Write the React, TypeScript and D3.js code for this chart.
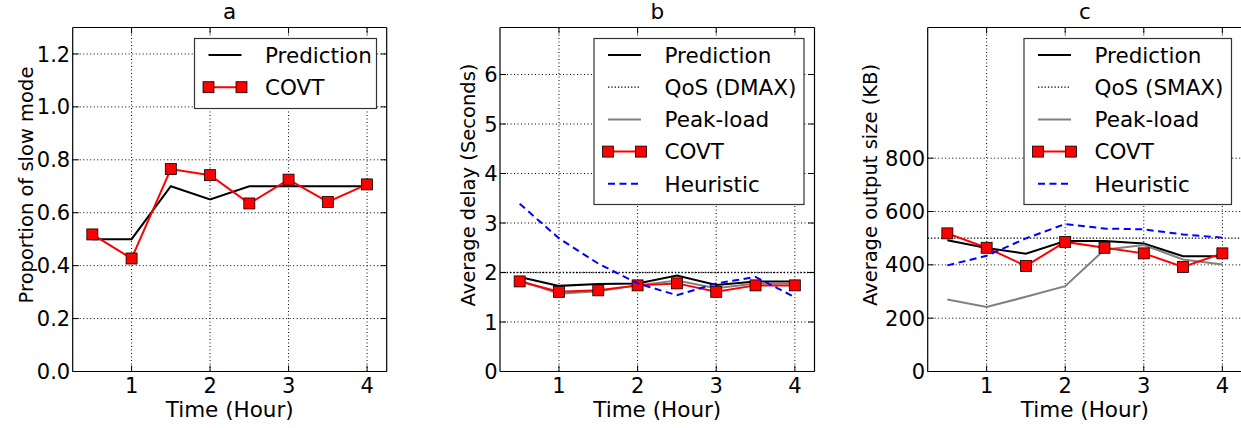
import React from "react";
import * as d3 from "d3";

// hours on the x axis
const times = [0.5, 1, 1.5, 2, 2.5, 3, 3.5, 4];
const xTicks = [1, 2, 3, 4];

// panel a: proportion of slow mode
const aPrediction = [0.5, 0.5, 0.7, 0.65, 0.7, 0.7, 0.7, 0.7];
const aCovt = [0.518, 0.427, 0.765, 0.742, 0.635, 0.725, 0.641, 0.707];
const aTicks = [0, 0.2, 0.4, 0.6, 0.8, 1.0, 1.2];

// panel b: average delay
const bPrediction = [1.91, 1.73, 1.77, 1.78, 1.94, 1.75, 1.82, 1.82];
const bPeak = [1.84, 1.57, 1.62, 1.74, 1.84, 1.68, 1.78, 1.78];
const bCovt = [1.82, 1.61, 1.64, 1.74, 1.78, 1.61, 1.74, 1.74];
const bHeuristic = [3.39, 2.69, 2.18, 1.78, 1.54, 1.78, 1.91, 1.5];
const bQos = 2;
const bTicks = [0, 1, 2, 3, 4, 5, 6];

// panel c: average output size
const cPrediction = [492, 463, 442, 489, 489, 480, 432, 432];
const cPeak = [270, 242, 280, 320, 457, 474, 420, 401];
const cCovt = [518, 464, 396, 486, 464, 443, 392, 443];
const cHeuristic = [398, 434, 499, 553, 536, 533, 514, 502];
const cQos = 500;
const cTicks = [0, 200, 400, 600, 800];

const FONT = "DejaVu Sans, sans-serif";
const FS = 21.5; // legend, titles, x label
const TICK_FS = 21;
const YLAB_FS = 19.5;
const TOP = 27.5;
const BOTTOM = 371.5;

type Series = { name: string; values?: number[]; level?: number; kind: string };

const styles: Record<string, any> = {
  pred: { stroke: "#000", width: 2, dash: null },
  qos: { stroke: "#000", width: 1.3, dash: "1.3,2" },
  peak: { stroke: "#808080", width: 2, dash: null },
  covt: { stroke: "#ff0000", width: 2, dash: null },
  heur: { stroke: "#0000ff", width: 2, dash: "7,4.5" },
};

function Panel(props: any) {
  const { left, right, clipRight, yDomain, yTicks, fmt, title, yLabel, labelX, series, legend } = props;
  const x = d3.scaleLinear().domain([0.25, 4.25]).range([left, right]);
  const y = d3.scaleLinear().domain(yDomain).range([BOTTOM, TOP]);
  const line = d3.line<number>().x((_, i) => x(times[i])).y((d) => y(d));
  const cx = (left + right) / 2;
  const visRight = Math.min(right, clipRight);
  const clipId = "clip-" + title;

  return (
    <g>
      <defs>
        <clipPath id={clipId}>
          <rect x={left} y={TOP} width={right - left} height={BOTTOM - TOP} />
        </clipPath>
      </defs>
      {/* grid */}
      {xTicks.map((t) => (
        <line key={"gx" + t} x1={x(t)} x2={x(t)} y1={TOP} y2={BOTTOM} stroke="#000" strokeWidth={1} strokeDasharray="1,2.5" />
      ))}
      {yTicks.map((t: number) => (
        <line key={"gy" + t} x1={left} x2={visRight} y1={y(t)} y2={y(t)} stroke="#000" strokeWidth={1} strokeDasharray="1,2.5" />
      ))}
      {/* data */}
      <g clipPath={`url(#${clipId})`}>
        {series.map((s: Series) => {
          const st = styles[s.kind];
          if (s.level !== undefined) {
            return (
              <line key={s.name} x1={left} x2={right} y1={y(s.level)} y2={y(s.level)} stroke={st.stroke} strokeWidth={st.width} strokeDasharray={st.dash || undefined} />
            );
          }
          return (
            <g key={s.name}>
              <path d={line(s.values!) || ""} fill="none" stroke={st.stroke} strokeWidth={st.width} strokeDasharray={st.dash || undefined} />
              {s.kind === "covt" &&
                s.values!.map((v, i) => (
                  <rect key={i} x={x(times[i]) - 5.5} y={y(v) - 5.5} width={11} height={11} fill="#ff0000" stroke="#000" strokeWidth={0.8} />
                ))}
            </g>
          );
        })}
      </g>
      {/* frame */}
      <line x1={left} x2={visRight} y1={TOP} y2={TOP} stroke="#000" strokeWidth={1.2} />
      <line x1={left} x2={visRight} y1={BOTTOM} y2={BOTTOM} stroke="#000" strokeWidth={1.2} />
      <line x1={left} x2={left} y1={TOP} y2={BOTTOM} stroke="#000" strokeWidth={1.2} />
      {right <= clipRight && <line x1={right} x2={right} y1={TOP} y2={BOTTOM} stroke="#000" strokeWidth={1.2} />}
      {/* ticks */}
      {xTicks.map((t) => (
        <g key={"tx" + t}>
          <line x1={x(t)} x2={x(t)} y1={BOTTOM} y2={BOTTOM - 6} stroke="#000" />
          <line x1={x(t)} x2={x(t)} y1={TOP} y2={TOP + 6} stroke="#000" />
          <text x={x(t)} y={393} textAnchor="middle" fontFamily={FONT} fontSize={TICK_FS}>{t}</text>
        </g>
      ))}
      {yTicks.map((t: number) => (
        <g key={"ty" + t}>
          <line x1={left} x2={left + 6} y1={y(t)} y2={y(t)} stroke="#000" />
          {right <= clipRight && <line x1={right} x2={right - 6} y1={y(t)} y2={y(t)} stroke="#000" />}
          <text x={left - 2.5} y={y(t)} dy="0.36em" textAnchor="end" fontFamily={FONT} fontSize={TICK_FS}>{fmt(t)}</text>
        </g>
      ))}
      {/* labels */}
      <text x={cx} y={19} textAnchor="middle" fontFamily={FONT} fontSize={FS}>{title}</text>
      <text x={cx} y={416.5} textAnchor="middle" fontFamily={FONT} fontSize={FS}>Time (Hour)</text>
      <text transform={`translate(${labelX},185) rotate(-90)`} textAnchor="middle" fontFamily={FONT} fontSize={YLAB_FS}>{yLabel}</text>
      {/* legend */}
      <g>
        <rect x={legend.x} y={38.5} width={legend.w} height={legend.h} fill="#fff" stroke="#333" strokeWidth={1.2} />
        {series.map((s: Series, i: number) => {
          const st = styles[s.kind];
          const ly = 55 + i * 32.2;
          const hx = legend.x + 14;
          return (
            <g key={"lg" + s.name}>
              <line x1={hx} x2={hx + 33} y1={ly} y2={ly} stroke={st.stroke} strokeWidth={st.width} strokeDasharray={st.dash || undefined} />
              {s.kind === "covt" &&
                [hx, hx + 33].map((mx) => (
                  <rect key={mx} x={mx - 5.5} y={ly - 5.5} width={11} height={11} fill="#ff0000" stroke="#000" strokeWidth={0.8} />
                ))}
              <text x={legend.x + 70.5} y={ly} dy="0.36em" fontFamily={FONT} fontSize={FS}>{s.name}</text>
            </g>
          );
        })}
      </g>
    </g>
  );
}

export default function App() {
  return (
    <div style={{ position: "absolute", left: 0, top: 0 }}>
      <svg width={1241} height={428} style={{ display: "block", background: "#fff" }}>
        <Panel
          left={72.7}
          right={386.7}
          clipRight={1241}
          yDomain={[0, 1.3]}
          yTicks={aTicks}
          fmt={(v: number) => v.toFixed(1)}
          title="a"
          yLabel="Proportion of slow mode"
          labelX={33}
          legend={{ x: 194.5, w: 182, h: 70 }}
          series={[
            { name: "Prediction", values: aPrediction, kind: "pred" },
            { name: "COVT", values: aCovt, kind: "covt" },
          ]}
        />
        <Panel
          left={500}
          right={814.5}
          clipRight={1241}
          yDomain={[0, 6.95]}
          yTicks={bTicks}
          fmt={(v: number) => String(v)}
          title="b"
          yLabel="Average delay (Seconds)"
          labelX={475}
          legend={{ x: 594, w: 210, h: 166 }}
          series={[
            { name: "Prediction", values: bPrediction, kind: "pred" },
            { name: "QoS (DMAX)", level: bQos, kind: "qos" },
            { name: "Peak-load", values: bPeak, kind: "peak" },
            { name: "COVT", values: bCovt, kind: "covt" },
            { name: "Heuristic", values: bHeuristic, kind: "heur" },
          ]}
        />
        <Panel
          left={927.7}
          right={1242}
          clipRight={1241}
          yDomain={[0, 1290]}
          yTicks={cTicks}
          fmt={(v: number) => String(v)}
          title="c"
          yLabel="Average output size (KB)"
          labelX={877}
          legend={{ x: 1024, w: 207.5, h: 166 }}
          series={[
            { name: "Prediction", values: cPrediction, kind: "pred" },
            { name: "QoS (SMAX)", level: cQos, kind: "qos" },
            { name: "Peak-load", values: cPeak, kind: "peak" },
            { name: "COVT", values: cCovt, kind: "covt" },
            { name: "Heuristic", values: cHeuristic, kind: "heur" },
          ]}
        />
      </svg>
    </div>
  );
}
